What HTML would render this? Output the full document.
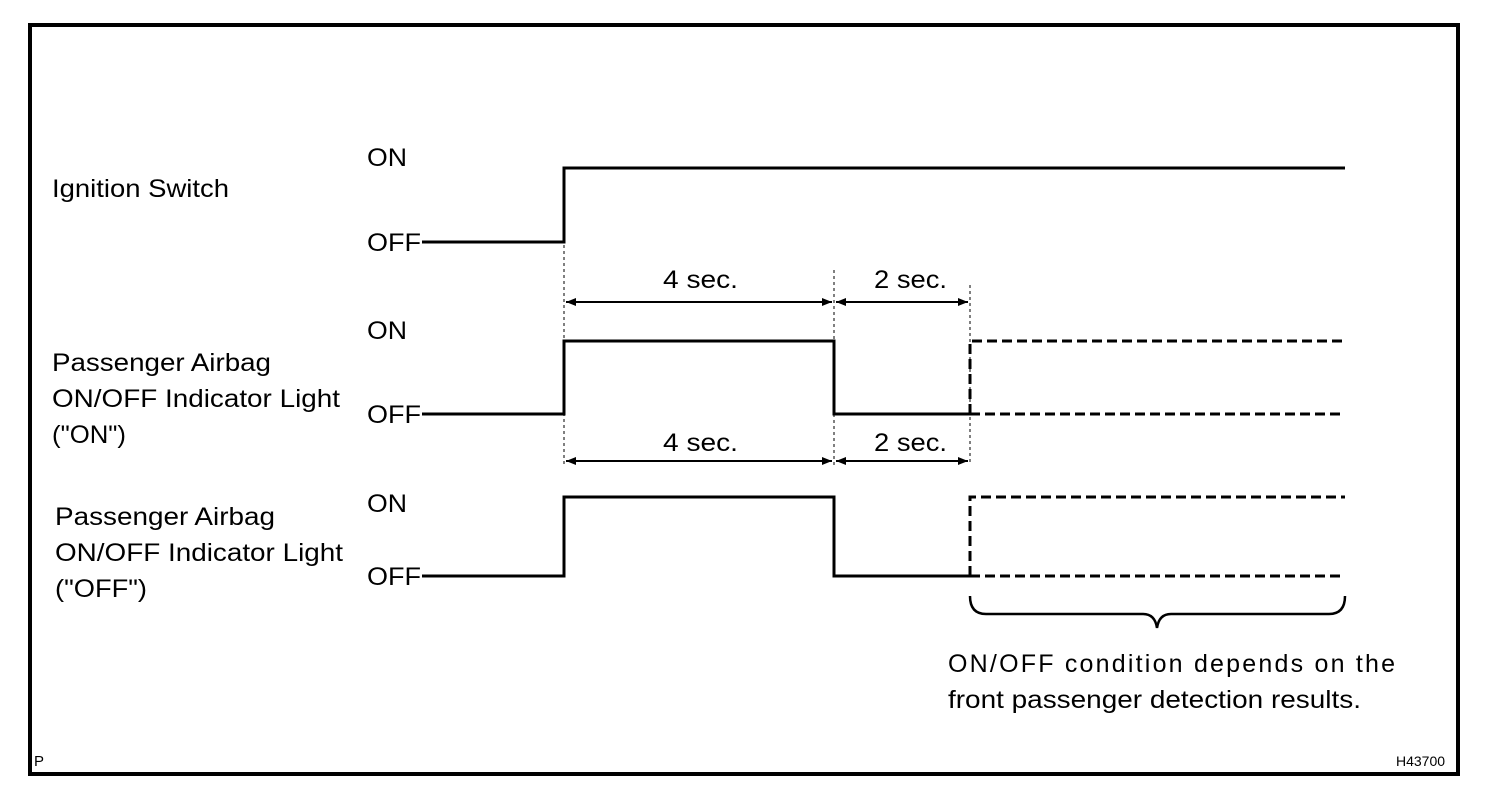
<!DOCTYPE html>
<html><head><meta charset="utf-8"><style>
html,body{margin:0;padding:0;background:#fff;width:1504px;height:792px;overflow:hidden}
svg text{font-family:"Liberation Sans",Arial,sans-serif;fill:#000}
</style></head><body>
<svg width="1504" height="792" viewBox="0 0 1504 792" xmlns="http://www.w3.org/2000/svg">
<defs>
<marker id="a" viewBox="0 0 10 10" refX="10" refY="5" markerWidth="18" markerHeight="10" markerUnits="userSpaceOnUse" orient="auto-start-reverse"><path d="M0,1 L10,5 L0,9 z" fill="#000"/></marker>
</defs>
<rect x="30" y="25" width="1428" height="749" fill="none" stroke="#000" stroke-width="4"/>
<g font-size="25" lengthAdjust="spacingAndGlyphs">
<text x="52" y="197" textLength="177" lengthAdjust="spacingAndGlyphs">Ignition Switch</text>
<text x="52" y="371" textLength="219" lengthAdjust="spacingAndGlyphs">Passenger Airbag</text>
<text x="52" y="407" textLength="288" lengthAdjust="spacingAndGlyphs">ON/OFF Indicator Light</text>
<text x="52" y="443" textLength="74" lengthAdjust="spacingAndGlyphs">("ON")</text>
<text x="55" y="525" textLength="220" lengthAdjust="spacingAndGlyphs">Passenger Airbag</text>
<text x="55" y="561" textLength="288" lengthAdjust="spacingAndGlyphs">ON/OFF Indicator Light</text>
<text x="55" y="597" textLength="92" lengthAdjust="spacingAndGlyphs">("OFF")</text>
<text x="367" y="166" textLength="40" lengthAdjust="spacingAndGlyphs">ON</text>
<text x="367" y="251" textLength="54" lengthAdjust="spacingAndGlyphs">OFF</text>
<text x="367" y="339" textLength="40" lengthAdjust="spacingAndGlyphs">ON</text>
<text x="367" y="423" textLength="54" lengthAdjust="spacingAndGlyphs">OFF</text>
<text x="367" y="512" textLength="40" lengthAdjust="spacingAndGlyphs">ON</text>
<text x="367" y="585" textLength="54" lengthAdjust="spacingAndGlyphs">OFF</text>
<text x="663" y="288" textLength="75" lengthAdjust="spacingAndGlyphs">4 sec.</text>
<text x="874" y="288" textLength="73" lengthAdjust="spacingAndGlyphs">2 sec.</text>
<text x="663" y="451" textLength="75" lengthAdjust="spacingAndGlyphs">4 sec.</text>
<text x="874" y="451" textLength="73" lengthAdjust="spacingAndGlyphs">2 sec.</text>
<text x="948" y="672" textLength="447" lengthAdjust="spacing">ON/OFF condition depends on the</text>
<text x="948" y="708" textLength="413" lengthAdjust="spacingAndGlyphs">front passenger detection results.</text>
</g>
<text x="34" y="766" font-size="15">P</text>
<text x="1396" y="766" font-size="14">H43700</text>
<g stroke="#000" fill="none">
<g stroke-width="1" stroke-dasharray="3,3">
<line x1="564" y1="245" x2="564" y2="465"/>
<line x1="834" y1="270" x2="834" y2="465"/>
<line x1="970" y1="285" x2="970" y2="465"/>
</g>
<g stroke-width="3">
<polyline points="422,242 564,242 564,168 1345,168"/>
<polyline points="422,414 564,414 564,341 834,341 834,414 970,414"/>
<polyline points="422,576 564,576 564,497 834,497 834,576 970,576"/>
</g>
<g stroke-width="3" stroke-dasharray="10,5">
<polyline points="970,414 970,341 1345,341"/>
<line x1="970" y1="414" x2="1345" y2="414"/>
<polyline points="970,576 970,497 1345,497"/>
<line x1="970" y1="576" x2="1345" y2="576"/>
</g>
<g stroke-width="2">
<line x1="566" y1="302" x2="832" y2="302" marker-start="url(#a)" marker-end="url(#a)"/>
<line x1="836" y1="302" x2="968" y2="302" marker-start="url(#a)" marker-end="url(#a)"/>
<line x1="566" y1="461" x2="832" y2="461" marker-start="url(#a)" marker-end="url(#a)"/>
<line x1="836" y1="461" x2="968" y2="461" marker-start="url(#a)" marker-end="url(#a)"/>
</g>
<path d="M970,596 Q970,614 986,614 L1143,614 Q1155,614 1157,628 Q1159,614 1171,614 L1329,614 Q1345,614 1345,596" stroke-width="2.5"/>
</g>
</svg>
</body></html>
